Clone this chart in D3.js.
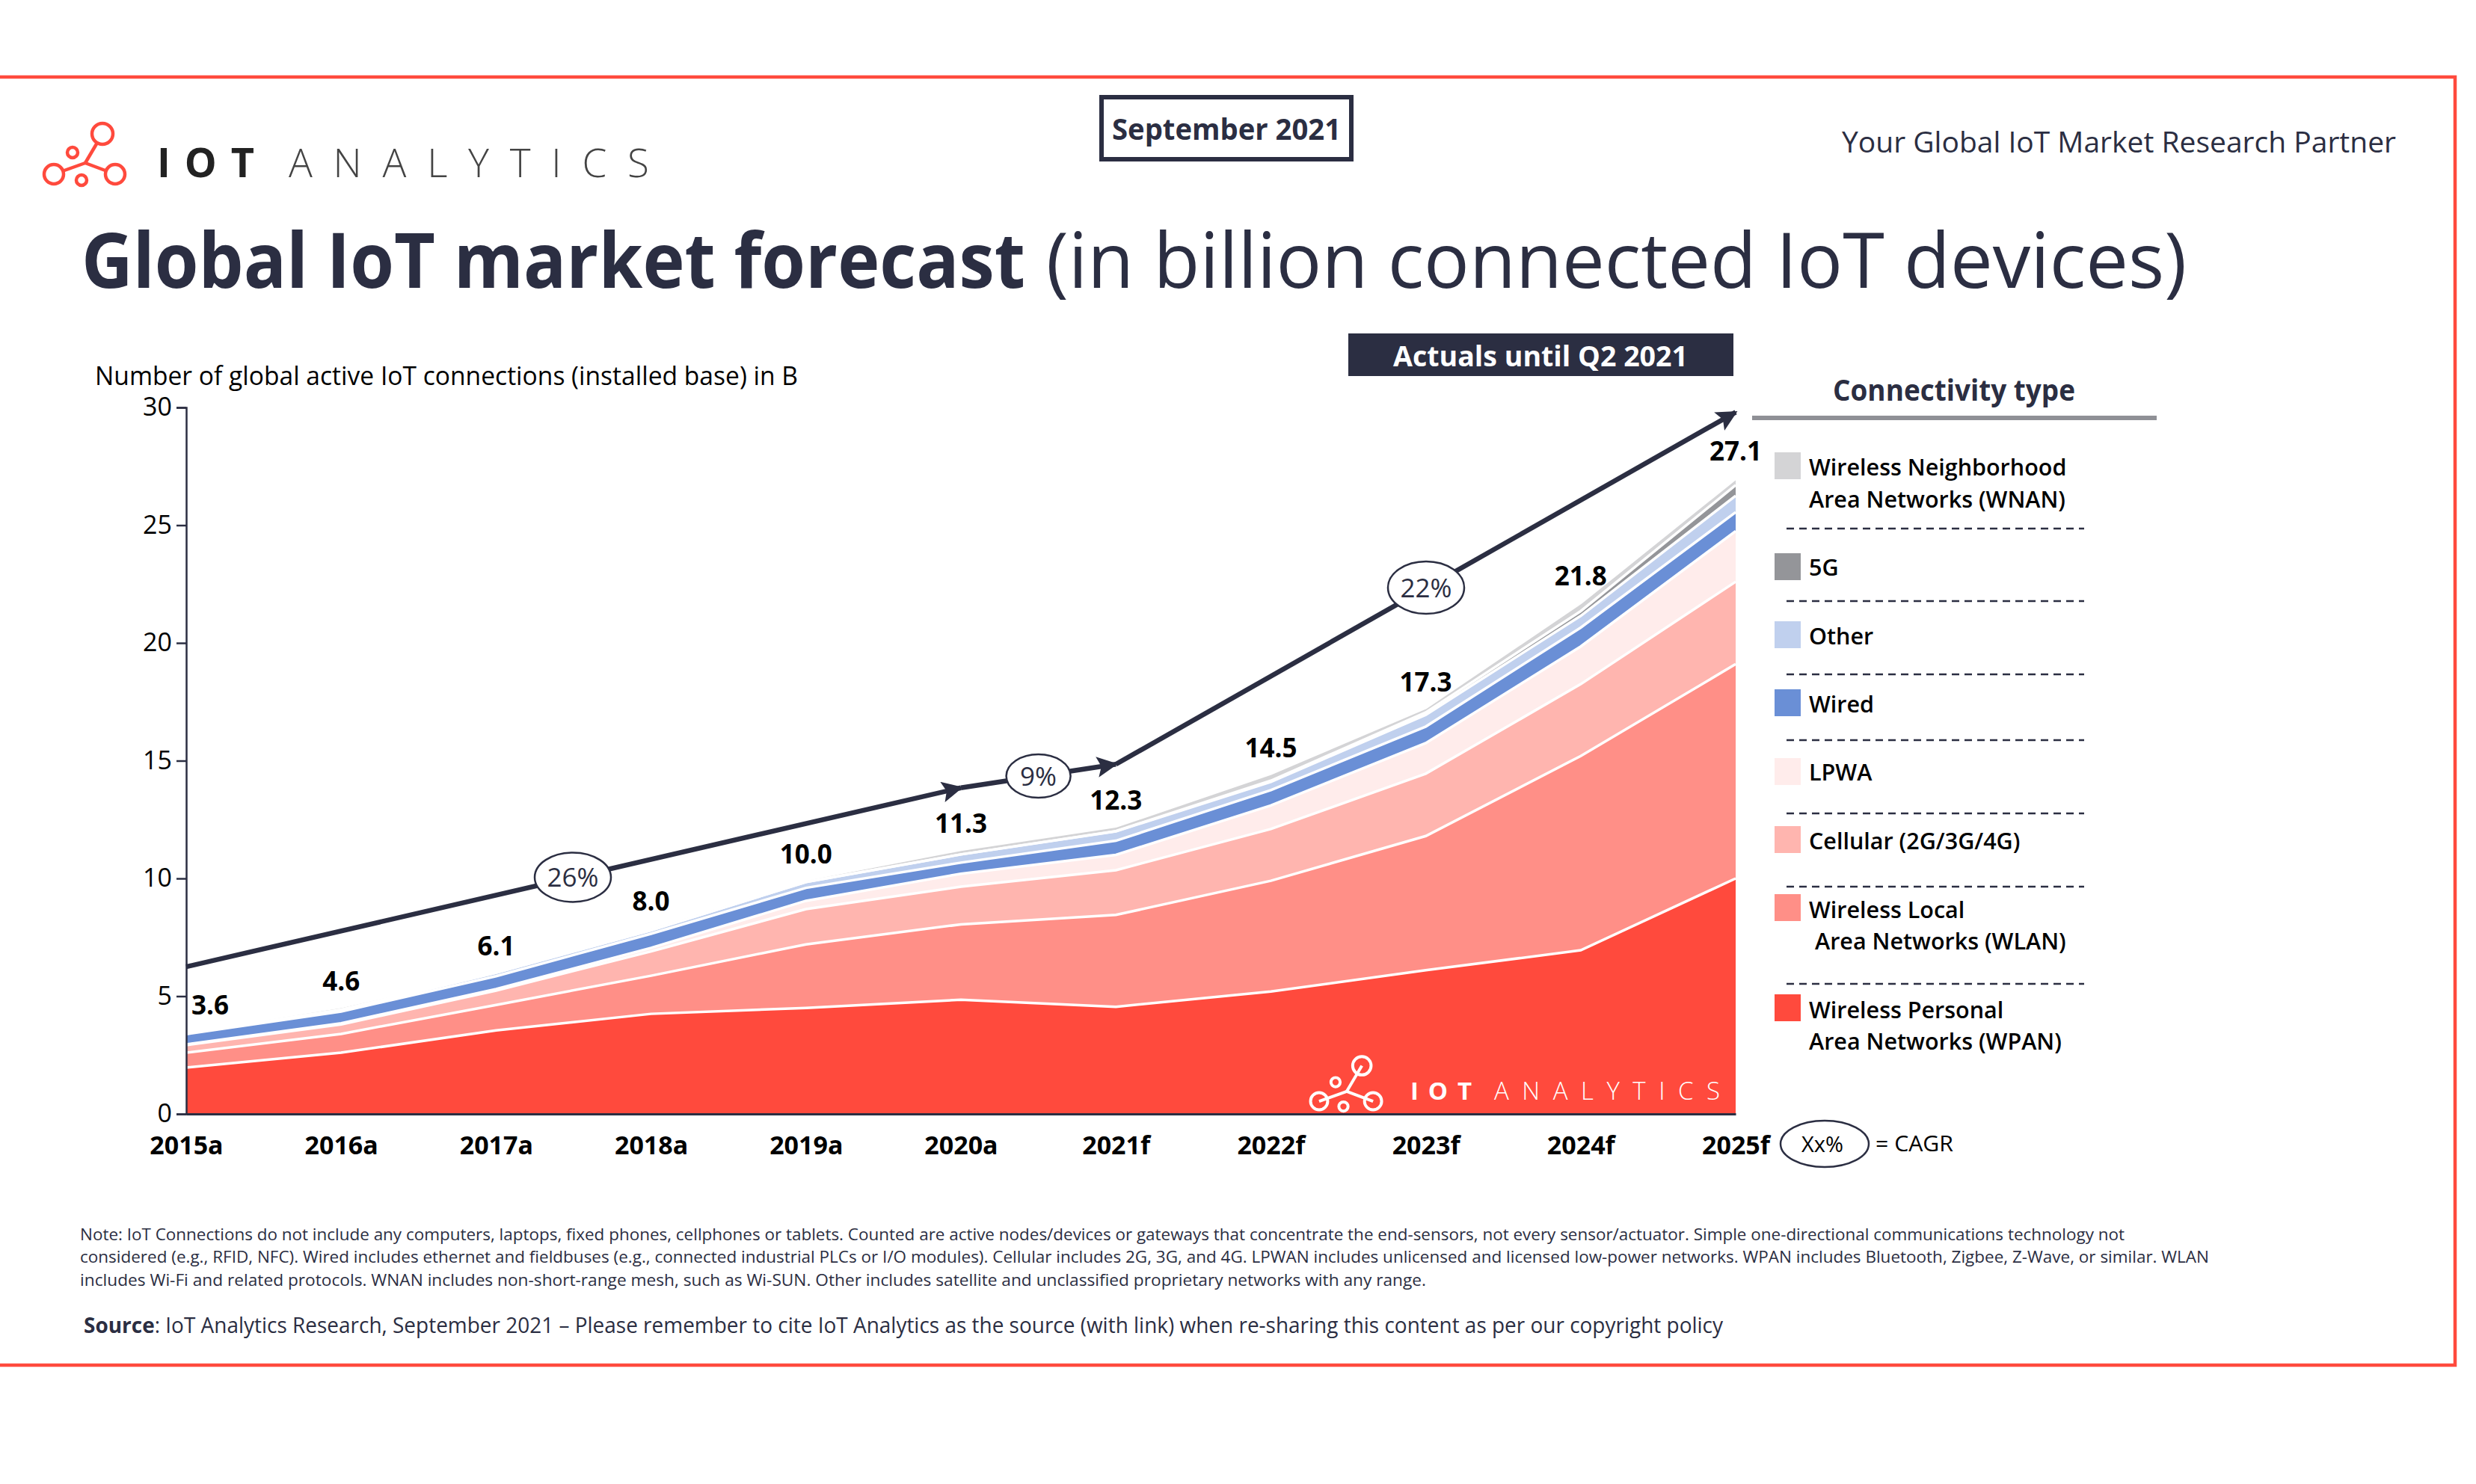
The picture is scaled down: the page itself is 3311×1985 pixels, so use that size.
<!DOCTYPE html>
<html>
<head>
<meta charset="utf-8">
<script src="https://cdn.jsdelivr.net/npm/d3@7"></script>
<style>
  body { margin: 0; background: #fff; }
  text { font-family: "Open Sans", sans-serif; }
</style>
</head>
<body>
<svg id="chart" width="3311" height="1985"></svg>
<script>
const years = ["2015a","2016a","2017a","2018a","2019a","2020a","2021f","2022f","2023f","2024f","2025f"];
const totals = [3.6,4.6,6.1,8.0,10.0,11.3,12.3,14.5,17.3,21.8,27.1];

// installed base per connectivity type
const wpan     = [1.97,2.6,3.55,4.25,4.5,4.85,4.55,5.2,6.1,6.95,10.0];
const wlan     = [0.63,0.8,1.08,1.62,2.7,3.2,3.9,4.7,5.7,8.25,9.1];
const cellular = [0.32,0.4,0.61,1.03,1.5,1.6,1.9,2.2,2.65,3.05,3.5];
const lpwa     = [0.03,0.05,0.06,0.15,0.35,0.55,0.65,1.0,1.3,1.6,2.15];
const wired    = [0.44,0.5,0.55,0.6,0.55,0.47,0.6,0.65,0.7,0.8,0.8];
const other    = [0.04,0.07,0.15,0.15,0.25,0.35,0.4,0.35,0.5,0.5,0.7];
const fiveG    = [0,0,0,0,0,0,0.01,0.05,0.1,0.2,0.45];
const wnan     = [0.07,0.13,0.05,0.1,0.1,0.2,0.2,0.3,0.2,0.35,0.28];

const seriesKeys = ["wpan","wlan","cellular","lpwa","wired","other","fiveG","wnan"];
const seriesValues = [wpan,wlan,cellular,lpwa,wired,other,fiveG,wnan];
const seriesColors = ["#ff4a3d","#ff8f87","#ffb5af","#ffeceb","#6a8fd6","#c0d0ee","#949599","#d4d4d6"];

const yTicks = [0,5,10,15,20,25,30];

// CAGR arrows as [year index, value] pairs
const cagrFrom = [[0,6.25],[5,13.85],[6,14.85]];
const cagrTo   = [[5,13.85],[6,14.85],[10,29.8]];
const cagrLabels = ["26%","9%","22%"];

const legendNames = [
  ["Wireless Neighborhood","Area Networks (WNAN)"],["5G"],["Other"],["Wired"],["LPWA"],
  ["Cellular (2G/3G/4G)"],["Wireless Local"," Area Networks (WLAN)"],["Wireless Personal","Area Networks (WPAN)"]
];
const legendColors = ["#d4d4d6","#949599","#c0d0ee","#6a8fd6","#ffeceb","#ffb5af","#ff8f87","#ff4a3d"];

const noteLines = [
  "Note: IoT Connections do not include any computers, laptops, fixed phones, cellphones or tablets. Counted are active nodes/devices or gateways that concentrate the end-sensors, not every sensor/actuator. Simple one-directional communications technology not",
  "considered (e.g., RFID, NFC). Wired includes ethernet and fieldbuses (e.g., connected industrial PLCs or I/O modules). Cellular includes 2G, 3G, and 4G. LPWAN includes unlicensed and licensed low-power networks. WPAN includes Bluetooth, Zigbee, Z-Wave, or similar. WLAN",
  "includes Wi-Fi and related protocols. WNAN includes non-short-range mesh, such as Wi-SUN. Other includes satellite and unclassified proprietary networks with any range."
];

const ink = "#2b2e42";
const red = "#ff4a3d";
const svg = d3.select("#chart");

const x = d3.scalePoint().domain(years).range([249, 2321]);
const y = d3.scaleLinear().domain([0, 30]).range([1490, 545]);

// small text helper, w forces the width seen in the picture
const label = (g, tx, ty, str, size, o = {}) => {
  const t = g.append("text").attr("x", tx).attr("y", ty).text(str)
    .attr("font-size", size)
    .attr("font-weight", o.weight || 400)
    .attr("fill", o.fill || "#000")
    .attr("text-anchor", o.anchor || "start");
  if (o.w) t.attr("textLength", o.w).attr("lengthAdjust", o.adjust || "spacingAndGlyphs");
  return t;
};

// IoT Analytics icon, k = 1 is the header one
const logoIcon = (g, ox, oy, k, col, fill) => {
  const l = g.append("g").attr("transform", `translate(${ox},${oy}) scale(${k})`);
  const hub = [114,218];
  [[137,179],[72,233],[154,233]].forEach(p => {
    l.append("line").attr("x1",hub[0]).attr("y1",hub[1]).attr("x2",p[0]).attr("y2",p[1])
      .attr("stroke",col).attr("stroke-width",4.5);
  });
  [[137,179,14],[72,233,13],[154,233,13],[97,204,7],[109,241,7]].forEach(c => {
    l.append("circle").attr("cx",c[0]).attr("cy",c[1]).attr("r",c[2])
      .attr("fill",fill).attr("stroke",col).attr("stroke-width",4.5);
  });
};

// frame
svg.append("rect").attr("x",-10).attr("y",103).attr("width",3293).attr("height",1723)
  .attr("fill","none").attr("stroke",red).attr("stroke-width",4.5);

// header
logoIcon(svg, 0, 0, 1, red, "#fff");
label(svg, 210, 237, "IOT", 54, {weight:700, fill:"#222", w:130, adjust:"spacing"});
label(svg, 386, 237, "ANALYTICS", 53, {weight:300, fill:"#444", w:482, adjust:"spacing"});

svg.append("rect").attr("x",1480 - 7).attr("y",130).attr("width",334).attr("height",83)
  .attr("fill","#fff").attr("stroke",ink).attr("stroke-width",6);
label(svg, 1640, 187, "September 2021", 39, {weight:700, fill:ink, anchor:"middle", w:306});
label(svg, 2463, 204, "Your Global IoT Market Research Partner", 39, {fill:ink, w:741});

const titleY = 385;
label(svg, 109, titleY, "Global IoT market forecast", 103, {weight:700, fill:ink, w:1262});
label(svg, 1399, titleY, "(in billion connected IoT devices)", 103, {fill:ink, w:1525});

label(svg, 127, 515, "Number of global active IoT connections (installed base) in B", 34, {w:940});

// stacked areas
const rows = years.map((yr, i) => {
  const r = {year: yr};
  seriesKeys.forEach((k, j) => { r[k] = seriesValues[j][i]; });
  return r;
});
const stacked = d3.stack().keys(seriesKeys)(rows);
const area = d3.area().x(d => x(d.data.year)).y0(d => y(d[0])).y1(d => y(d[1]));
const topLine = d3.line().x(d => x(d.data.year)).y(d => y(d[1]));

svg.append("g").selectAll("path").data(stacked).enter().append("path")
  .attr("d", area).attr("fill", (d, i) => seriesColors[i]);
svg.append("g").selectAll("path").data(stacked).enter().append("path")
  .attr("d", topLine).attr("fill","none").attr("stroke","#fff").attr("stroke-width",3.5);

// watermark
logoIcon(svg, 1700.6, 1268, 0.88, "#fff", "none");
label(svg, 1886, 1471, "IOT", 33, {weight:700, fill:"#fff", w:82, adjust:"spacing"});
label(svg, 1998, 1471, "ANALYTICS", 33, {weight:300, fill:"#fff", w:302, adjust:"spacing"});

// axes
const yAxis = svg.append("g").attr("transform","translate(249,0)")
  .call(d3.axisLeft(y).tickValues(yTicks).tickSize(13).tickPadding(6));
yAxis.selectAll("text").attr("font-size",34).attr("font-family","Open Sans").attr("fill","#000");
yAxis.selectAll("line,path").attr("stroke",ink).attr("stroke-width",2.5);

const xAxis = svg.append("g").attr("transform","translate(0,1490)")
  .call(d3.axisBottom(x).tickSize(0).tickPadding(0));
xAxis.selectAll("text").attr("font-size",34).attr("font-family","Open Sans").attr("font-weight",700)
  .attr("fill","#000").attr("dy",null).attr("y",54);
xAxis.select("path").attr("stroke",ink).attr("stroke-width",3);

// totals above the stack
totals.forEach((t, i) => {
  label(svg, x(years[i]) + (i === 0 ? 32 : 0), y(t) - 20, d3.format(".1f")(t), 35,
    {weight:700, anchor:"middle"});
});

// CAGR arrows
svg.append("defs").append("marker").attr("id","head")
  .attr("viewBox","0 0 10 10").attr("refX",9).attr("refY",5)
  .attr("markerWidth",28).attr("markerHeight",28).attr("markerUnits","userSpaceOnUse")
  .attr("orient","auto").append("path").attr("d","M0,0L10,5L0,10L2,5Z").attr("fill",ink);

cagrFrom.forEach((p, i) => {
  const q = cagrTo[i];
  svg.append("line")
    .attr("x1", x(years[p[0]])).attr("y1", y(p[1]))
    .attr("x2", x(years[q[0]])).attr("y2", y(q[1]))
    .attr("stroke",ink).attr("stroke-width",6.5).attr("marker-end","url(#head)");
});

const cagrBubble = (cx, cy, rx, ry, str, size) => {
  svg.append("ellipse").attr("cx",cx).attr("cy",cy).attr("rx",rx).attr("ry",ry)
    .attr("fill","#fff").attr("stroke",ink).attr("stroke-width",2.5);
  label(svg, cx, cy + size * 0.36, str, size, {fill:ink, anchor:"middle"});
};
const midX = i => (x(years[cagrFrom[i][0]]) + x(years[cagrTo[i][0]])) / 2;
const midY = i => (y(cagrFrom[i][1]) + y(cagrTo[i][1])) / 2;
cagrBubble(midX(0) - 1, midY(0), 51, 33, cagrLabels[0], 35);
cagrBubble(midX(1), midY(1), 43, 29, cagrLabels[1], 35);
cagrBubble(1907, 786, 51, 35, cagrLabels[2], 35);

svg.append("rect").attr("x",1803).attr("y",446).attr("width",515).attr("height",57).attr("fill",ink);
label(svg, 2060, 490, "Actuals until Q2 2021", 38, {weight:700, fill:"#fff", anchor:"middle", w:394});

// legend
label(svg, 2613, 536, "Connectivity type", 39, {weight:700, fill:ink, anchor:"middle", w:324});
svg.append("line").attr("x1",2343).attr("x2",2884).attr("y1",559).attr("y2",559)
  .attr("stroke","#8f9096").attr("stroke-width",6);

const swatchY = [605,740,831,922,1014,1105,1196,1330];
const legendBase = [[636,679],[770],[862],[953],[1044],[1136],[1228,1270],[1362,1404]];
const dividerY = [707,804,902,990,1088,1186,1316];

legendNames.forEach((names, i) => {
  svg.append("rect").attr("x",2373).attr("y",swatchY[i]).attr("width",35).attr("height",36)
    .attr("fill",legendColors[i]);
  names.forEach((n, j) => {
    const indent = n.startsWith(" ") ? 8 : 0;
    label(svg, 2419 + indent, legendBase[i][j], n.trim(), 30.5, {weight:600});
  });
});
dividerY.forEach(d => {
  svg.append("line").attr("x1",2389).attr("x2",2787).attr("y1",d).attr("y2",d)
    .attr("stroke",ink).attr("stroke-width",2.5).attr("stroke-dasharray","10 7");
});

// CAGR key
svg.append("ellipse").attr("cx",2440).attr("cy",1530).attr("rx",59).attr("ry",31)
  .attr("fill","#fff").attr("stroke",ink).attr("stroke-width",2.5);
label(svg, 2437, 1541, "Xx%", 29, {anchor:"middle"});
label(svg, 2508, 1540, "= CAGR", 29, {w:104});

// notes
const noteBase = [1659,1689,1720];
const noteWidth = [2734,2847,1800];
noteLines.forEach((s, i) => {
  label(svg, 107, noteBase[i], s, 22, {fill:ink, w:noteWidth[i]});
});
const src = label(svg, 112, 1783, "", 29, {fill:ink, w:2192});
src.append("tspan").attr("font-weight",700).text("Source");
src.append("tspan").text(": IoT Analytics Research, September 2021 – Please remember to cite IoT Analytics as the source (with link) when re-sharing this content as per our copyright policy");
</script>
</body>
</html>
